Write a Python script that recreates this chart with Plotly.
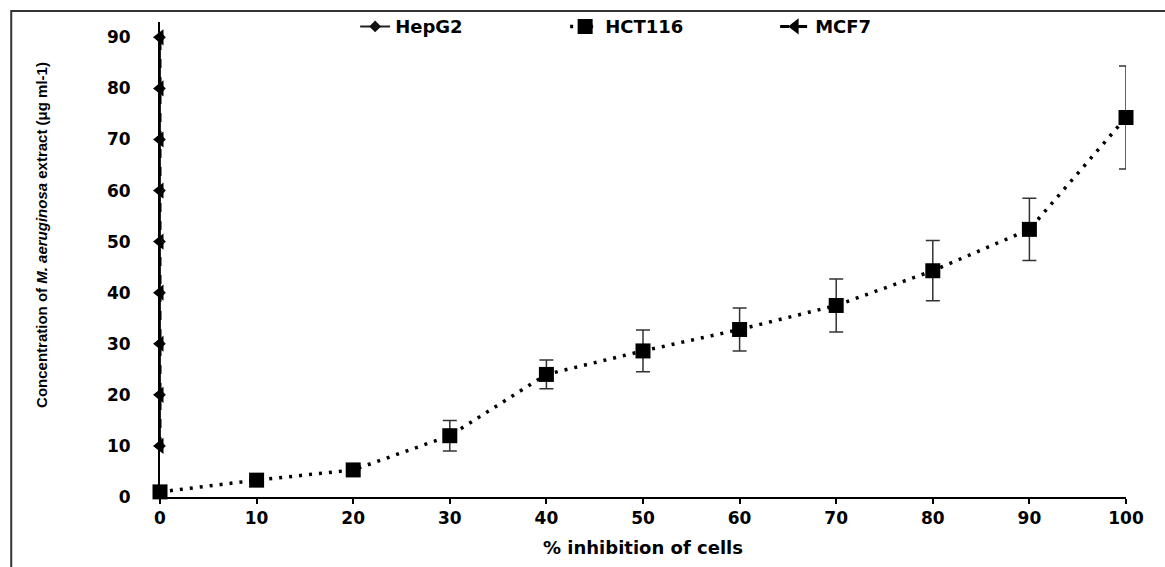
import plotly.graph_objects as go

inhibition = [0, 10, 20, 30, 40, 50, 60, 70, 80, 90, 100]
hct116 = [1.0, 3.3, 5.3, 12.0, 24.0, 28.6, 32.8, 37.5, 44.3, 52.4, 74.3]
hct116_err = [0, 0, 0, 3.0, 2.8, 4.1, 4.2, 5.2, 5.9, 6.1, 10.1]

other_x = [0, 0, 0, 0, 0, 0, 0, 0, 0]
hepg2 = [10, 20, 30, 40, 50, 60, 70, 80, 90]
mcf7 = [10, 20, 30, 40, 50, 60, 70, 80, 90]

x_ticks = [0, 10, 20, 30, 40, 50, 60, 70, 80, 90, 100]
y_ticks = [0, 10, 20, 30, 40, 50, 60, 70, 80, 90]

fig = go.Figure()
fig.add_trace(go.Scatter(
    x=other_x, y=hepg2, name="HepG2", mode="lines+markers",
    line=dict(color="#222", width=2, dash="solid"),
    marker=dict(symbol="diamond", size=9, color="#111"),
    cliponaxis=False))
fig.add_trace(go.Scatter(
    x=inhibition, y=hct116, name="HCT116", mode="lines+markers",
    line=dict(color="black", width=3.5, dash="3px,7px"),
    marker=dict(symbol="square", size=15, color="black"),
    error_y=dict(type="data", array=hct116_err, visible=True,
                 color="#333", thickness=1.5, width=7),
    cliponaxis=False))
fig.add_trace(go.Scatter(
    x=other_x, y=mcf7, name="MCF7", mode="lines+markers",
    line=dict(color="black", width=3, dash="dash"),
    marker=dict(symbol="triangle-left", size=14, color="black"),
    cliponaxis=False))

fig.add_shape(type="rect", xref="paper", yref="paper",
              x0=-0.154, x1=1.2, y0=-0.3, y1=1.023,
              line=dict(color="#333", width=2), layer="below")

fig.add_annotation(
    text="Concentration of <i>M. aeruginosa</i> extract (μg ml-1)",
    xref="paper", yref="paper", x=-0.122, y=0.552,
    xanchor="center", yanchor="middle", textangle=-90, showarrow=False,
    font=dict(family="Liberation Sans", size=15, weight="bold", color="black"))

fig.update_layout(
    width=1165, height=567,
    margin=dict(l=160, r=39, t=22, b=70, autoexpand=False),
    plot_bgcolor="white", paper_bgcolor="white",
    font=dict(family="DejaVu Sans", color="black"),
    showlegend=True,
    legend=dict(orientation="h", x=0.202, y=0.99, xanchor="left", yanchor="middle",
                font=dict(family="DejaVu Sans", size=18, color="black", weight="bold"),
                bgcolor="rgba(0,0,0,0)", entrywidth=165, entrywidthmode="pixels"),
    xaxis=dict(range=[0, 100], tickvals=x_ticks, showgrid=False, zeroline=False,
               showline=True, linecolor="black", linewidth=2,
               ticks="outside", ticklen=5, tickwidth=2, tickcolor="black",
               tickfont=dict(family="DejaVu Sans", size=17, weight="bold"),
               title=dict(text="% inhibition of cells", standoff=14,
                          font=dict(family="DejaVu Sans", size=18, weight="bold"))),
    yaxis=dict(range=[0, 93], tickvals=y_ticks, showgrid=False, zeroline=False,
               showline=True, linecolor="black", linewidth=2, ticks="",
               ticklabelstandoff=24,
               tickfont=dict(family="DejaVu Sans", size=17, weight="bold")),
)

fig.write_html("out.html", config={"displayModeBar": False},
               post_script="document.body.style.margin='0';")
